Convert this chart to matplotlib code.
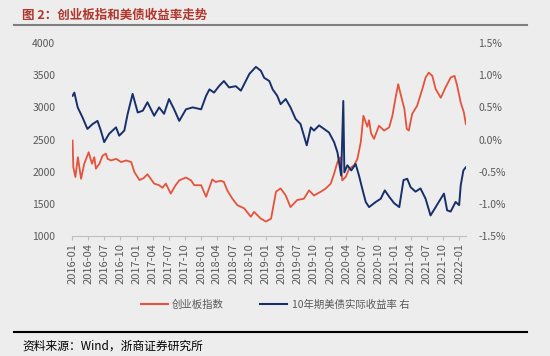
import matplotlib
matplotlib.use('Agg')
import matplotlib.pyplot as plt
from matplotlib.lines import Line2D
import pandas as pd

plt.rcParams['font.family'] = ['Noto Sans CJK SC', 'DejaVu Sans']
plt.rcParams['axes.unicode_minus'] = False

# 创业板指数（左轴）
cyb_dates = [
    '2016-01-04', '2016-01-08', '2016-01-20', '2016-02-03', '2016-02-21', '2016-03-10',
    '2016-04-04', '2016-04-23', '2016-05-06', '2016-05-15', '2016-06-04', '2016-06-22',
    '2016-07-11', '2016-07-20', '2016-08-09', '2016-09-07', '2016-10-05', '2016-11-03',
    '2016-12-01', '2016-12-19', '2017-01-17', '2017-02-09', '2017-03-03', '2017-04-10',
    '2017-05-08', '2017-05-27', '2017-06-15', '2017-07-13', '2017-08-07', '2017-08-30',
    '2017-10-07', '2017-11-05', '2017-11-23', '2018-01-01', '2018-01-29', '2018-03-05',
    '2018-03-24', '2018-04-22', '2018-05-10', '2018-05-29', '2018-06-27', '2018-07-25',
    '2018-09-02', '2018-10-09', '2018-10-28', '2018-12-05', '2019-01-03', '2019-02-01',
    '2019-03-01', '2019-03-27', '2019-04-25', '2019-05-22', '2019-06-29', '2019-08-06',
    '2019-09-04', '2019-10-02', '2019-11-10', '2019-12-08', '2020-01-05', '2020-01-24',
    '2020-02-12', '2020-02-27', '2020-03-10', '2020-03-30', '2020-04-18', '2020-05-16',
    '2020-06-04', '2020-06-23', '2020-07-08', '2020-07-21', '2020-07-30', '2020-08-09',
    '2020-08-20', '2020-09-06', '2020-10-04', '2020-11-02', '2020-12-01', '2020-12-19',
    '2021-01-08', '2021-01-21', '2021-02-06', '2021-02-25', '2021-03-10', '2021-03-22',
    '2021-04-10', '2021-05-08', '2021-06-06', '2021-06-25', '2021-07-13', '2021-08-02',
    '2021-08-21', '2021-09-19', '2021-10-16', '2021-11-14', '2021-12-06', '2021-12-21',
    '2022-01-10', '2022-01-28', '2022-02-08',
]
cyb_values = [
    2484, 2070, 1917, 2226, 1890, 2124,
    2303, 2124, 2226, 2047, 2124, 2250,
    2280, 2200, 2175, 2200, 2150, 2175,
    2150, 1995, 1870, 1900, 1960, 1815,
    1790, 1750, 1815, 1660, 1780, 1865,
    1910, 1865, 1790, 1790, 1610, 1880,
    1840, 1860, 1840, 1710, 1580, 1480,
    1430, 1300, 1375, 1270, 1225, 1270,
    1690, 1740, 1630, 1450, 1560, 1580,
    1710, 1630, 1690, 1740, 1815, 1970,
    2150, 2225, 1865, 1920, 2045, 2100,
    2200, 2460, 2870, 2770, 2700, 2800,
    2600, 2510, 2715, 2640, 2690, 2870,
    3180, 3360, 3180, 2975, 2670, 2640,
    2900, 3025, 3280, 3465, 3540, 3490,
    3285, 3150, 3310, 3465, 3490, 3335,
    3075, 2920, 2740,
]

# 10年期美债实际收益率（右轴，%）
tips_dates = [
    '2016-01-04', '2016-01-14', '2016-02-02', '2016-03-01', '2016-03-28', '2016-04-26',
    '2016-05-24', '2016-06-12', '2016-07-01', '2016-07-29', '2016-09-06', '2016-09-24',
    '2016-10-23', '2016-11-11', '2016-12-09', '2017-01-07', '2017-02-05', '2017-03-03',
    '2017-04-10', '2017-05-08', '2017-06-05', '2017-07-03', '2017-08-01', '2017-08-30',
    '2017-10-07', '2017-11-14', '2018-01-01', '2018-01-29', '2018-02-17', '2018-03-15',
    '2018-04-12', '2018-05-10', '2018-06-08', '2018-07-16', '2018-08-14', '2018-10-01',
    '2018-11-07', '2018-12-05', '2018-12-24', '2019-01-22', '2019-02-10', '2019-03-08',
    '2019-03-27', '2019-04-25', '2019-05-22', '2019-06-20', '2019-07-18', '2019-08-06',
    '2019-08-22', '2019-09-14', '2019-10-02', '2019-10-31', '2019-11-28', '2019-12-26',
    '2020-01-24', '2020-02-12', '2020-03-04', '2020-03-16', '2020-03-22', '2020-04-08',
    '2020-04-30', '2020-05-25', '2020-06-13', '2020-07-01', '2020-07-21', '2020-08-09',
    '2020-09-16', '2020-10-14', '2020-11-06', '2020-12-01', '2020-12-29', '2021-01-27',
    '2021-02-20', '2021-03-13', '2021-04-01', '2021-04-29', '2021-05-27', '2021-06-25',
    '2021-07-23', '2021-08-21', '2021-09-19', '2021-10-07', '2021-10-25', '2021-11-14',
    '2021-12-12', '2022-01-01', '2022-01-10', '2022-01-25', '2022-02-08',
]
tips_values = [
    0.68, 0.73, 0.50, 0.34, 0.165, 0.24,
    0.29, 0.14, -0.04, 0.09, 0.19, 0.06,
    0.14, 0.40, 0.71, 0.42, 0.45, 0.58,
    0.37, 0.50, 0.40, 0.63, 0.47, 0.29,
    0.47, 0.50, 0.47, 0.68, 0.78, 0.73,
    0.83, 0.91, 0.81, 0.83, 0.76, 1.02,
    1.13, 1.07, 0.96, 0.91, 0.78, 0.68,
    0.55, 0.63, 0.50, 0.32, 0.24, 0.06,
    -0.09, 0.19, 0.14, 0.22, 0.165, 0.11,
    -0.04, -0.20, -0.56, 0.60, -0.51, -0.40,
    -0.48, -0.38, -0.56, -0.76, -0.97, -1.05,
    -0.97, -0.92, -0.79, -0.89, -0.99, -1.05,
    -0.63, -0.61, -0.74, -0.81, -0.76, -0.92,
    -1.18, -1.05, -0.92, -0.84, -1.10, -1.12,
    -0.97, -1.02, -0.71, -0.48, -0.43,
]

left_ticks = [1000, 1500, 2000, 2500, 3000, 3500, 4000]
right_ticks = [-1.5, -1.0, -0.5, 0.0, 0.5, 1.0, 1.5]
x_ticks = pd.date_range('2016-01-01', '2022-01-01', freq='QS')

title = '图 2：创业板指和美债收益率走势'
source = '资料来源：Wind，浙商证券研究所'
label_cyb = '创业板指数'
label_tips = '10年期美债实际收益率 右'

RED = '#E5533C'
BLUE = '#172F6B'
GREY = '#595959'
BG = '#EDEDED'

fig = plt.figure(figsize=(5.5, 3.56), dpi=100)
fig.patch.set_facecolor(BG)

ax = fig.add_axes([0.131, 0.337, 0.716, 0.542])
ax.set_facecolor(BG)
ax2 = ax.twinx()

ax.plot(pd.to_datetime(cyb_dates), cyb_values, color=RED, lw=1.3)
ax2.plot(pd.to_datetime(tips_dates), tips_values, color=BLUE, lw=1.4)

ax.set_xlim(pd.Timestamp('2016-01-01'), pd.Timestamp('2022-02-08'))
ax.set_ylim(1000, 4000)
ax2.set_ylim(-1.5, 1.5)

ax.set_yticks(left_ticks)
ax.set_yticklabels([str(v) for v in left_ticks])
ax2.set_yticks(right_ticks)
ax2.set_yticklabels(['%.1f%%' % v for v in right_ticks])

ax.set_xticks(x_ticks)
ax.set_xticklabels([d.strftime('%Y-%m') for d in x_ticks], rotation=90)

for a in (ax, ax2):
    for s in a.spines.values():
        s.set_visible(False)
ax.spines['bottom'].set_visible(True)
ax.spines['bottom'].set_color('#BFBFBF')
ax.spines['bottom'].set_linewidth(0.8)

ax.tick_params(axis='x', length=3, color='#BFBFBF', labelsize=8, labelcolor=GREY, pad=2)
ax.tick_params(axis='y', length=0, labelsize=7.5, labelcolor=GREY, pad=12)
ax2.tick_params(axis='y', length=0, labelsize=7.5, labelcolor=GREY, pad=9)

# 图例
handles = [Line2D([], [], color=RED, lw=1.5), Line2D([], [], color=BLUE, lw=1.5)]
fig.legend(handles, [label_cyb, label_tips], loc='center', bbox_to_anchor=(0.5, 1 - 305 / 356),
           ncol=2, frameon=False, fontsize=7.5, labelcolor=GREY, handlelength=2.6,
           columnspacing=3.5, handletextpad=0.4)

# 标题与分隔线
fig.text(22 / 550, 1 - 15 / 356, title, fontsize=9, fontweight='bold', color='#B0352B',
         ha='left', va='center')
fig.add_artist(Line2D([14 / 550, 527 / 550], [1 - 25 / 356, 1 - 25 / 356],
                      color='#7F7F7F', lw=1.5))
fig.add_artist(Line2D([14 / 550, 527 / 550], [1 - 332 / 356, 1 - 332 / 356],
                      color='black', lw=1.5))
fig.text(22 / 550, 1 - 346 / 356, source, fontsize=8.5, color='black', ha='left', va='center')

fig.savefig('out.png', dpi=100, facecolor=BG)
